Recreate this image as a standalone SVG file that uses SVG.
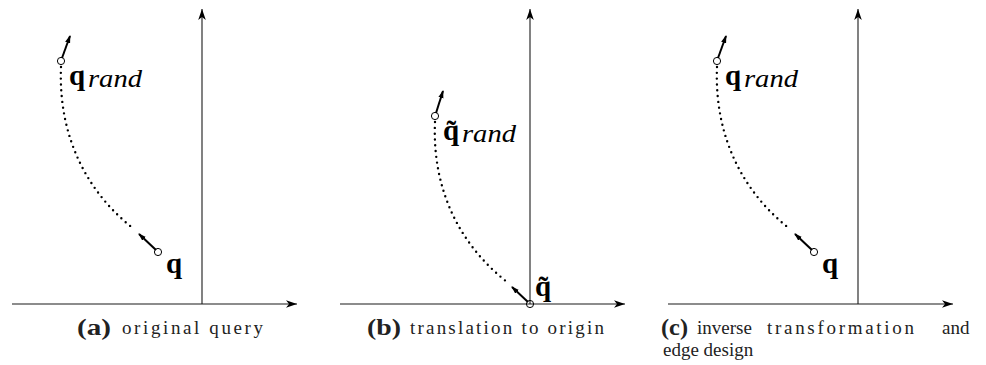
<svg xmlns="http://www.w3.org/2000/svg" width="986" height="365" viewBox="0 0 986 365">
<style>
.axis{stroke:#1a1a1a;stroke-width:1.1;fill:none}
.vec{stroke:#000;stroke-width:2;fill:none}
.dot{stroke:#000;stroke-width:2.4;fill:none;stroke-linecap:round;stroke-dasharray:0 5.8}
.pt{stroke:#000;stroke-width:1;fill:none}
.qb{font-family:"Liberation Serif","Times New Roman",serif;font-weight:bold;font-size:29px;fill:#000}
.sub{font-family:"Liberation Serif","Times New Roman",serif;font-style:italic;font-size:25px;fill:#000}
.cap{font-family:"Liberation Serif","Times New Roman",serif;font-size:19px;fill:#222}
.capb{font-family:"Liberation Serif","Times New Roman",serif;font-weight:bold;font-size:23px;fill:#222}
</style>
<defs>
<marker id="ax" markerUnits="userSpaceOnUse" markerWidth="14" markerHeight="10" refX="11" refY="5" orient="auto">
<path d="M0,1.2 L11,5 L0,8.8 L3,5 z" fill="#000"/>
</marker>
<marker id="vh" markerUnits="userSpaceOnUse" markerWidth="9" markerHeight="6" refX="7" refY="3" orient="auto">
<path d="M0,0.4 L8,3 L0,5.6 z" fill="#000"/>
</marker>
</defs>

<g id="connectors">
<line class="axis" x1="12" y1="304" x2="297" y2="304" marker-end="url(#ax)"/>
<line class="axis" x1="202" y1="304" x2="202" y2="9" marker-end="url(#ax)"/>
<path class="dot" d="M61,67 C58,140 90,195 134,229"/>
<line class="vec" x1="62" y1="58" x2="70" y2="36" marker-end="url(#vh)"/>
<line class="vec" x1="156" y1="250" x2="139" y2="234" marker-end="url(#vh)"/>

<line class="axis" x1="340" y1="304" x2="625" y2="304" marker-end="url(#ax)"/>
<line class="axis" x1="530" y1="304" x2="530" y2="9" marker-end="url(#ax)"/>
<path class="dot" d="M435,122 C432,190 460,245 507,282"/>
<line class="vec" x1="436" y1="113" x2="443" y2="91" marker-end="url(#vh)"/>
<line class="vec" x1="528" y1="302" x2="512" y2="287" marker-end="url(#vh)"/>

<line class="axis" x1="668" y1="304" x2="953" y2="304" marker-end="url(#ax)"/>
<line class="axis" x1="858" y1="304" x2="858" y2="9" marker-end="url(#ax)"/>
<path class="dot" d="M717,67 C714,140 746,195 790,229"/>
<line class="vec" x1="718" y1="58" x2="726" y2="36" marker-end="url(#vh)"/>
<line class="vec" x1="812" y1="250" x2="795" y2="234" marker-end="url(#vh)"/>
</g>

<g id="a-qrand">
<circle class="pt" cx="61" cy="61" r="3.6"/>
<text class="qb" x="69" y="85">q</text>
<text class="sub" x="88" y="87" textLength="54" lengthAdjust="spacingAndGlyphs">rand</text>
</g>
<g id="a-q">
<circle class="pt" cx="158" cy="252" r="3.6"/>
<text class="qb" x="166" y="273">q</text>
</g>
<g id="a-caption">
<text class="capb" x="77" y="335" textLength="34" lengthAdjust="spacingAndGlyphs">(a)</text>
<text class="cap" x="122" y="334" textLength="141" lengthAdjust="spacing">original query</text>
</g>

<g id="b-qrand">
<circle class="pt" cx="435" cy="116" r="3.6"/>
<text class="qb" x="443" y="140">q̃</text>
<text class="sub" x="462" y="142" textLength="54" lengthAdjust="spacingAndGlyphs">rand</text>
</g>
<g id="b-q">
<circle class="pt" cx="530" cy="304" r="3.6"/>
<text class="qb" x="535" y="296">q̃</text>
</g>
<g id="b-caption">
<text class="capb" x="367" y="335" textLength="34" lengthAdjust="spacingAndGlyphs">(b)</text>
<text class="cap" x="410" y="334" textLength="194" lengthAdjust="spacing">translation to origin</text>
</g>

<g id="c-qrand">
<circle class="pt" cx="717" cy="61" r="3.6"/>
<text class="qb" x="725" y="85">q</text>
<text class="sub" x="744" y="87" textLength="54" lengthAdjust="spacingAndGlyphs">rand</text>
</g>
<g id="c-q">
<circle class="pt" cx="814" cy="252" r="3.6"/>
<text class="qb" x="822" y="273">q</text>
</g>
<g id="c-caption">
<text class="capb" x="661" y="335" textLength="27" lengthAdjust="spacingAndGlyphs">(c)</text>
<text class="cap" x="697" y="334">inverse</text>
<text class="cap" x="767" y="334" textLength="147" lengthAdjust="spacing">transformation</text>
<text class="cap" x="942" y="334">and</text>
<text class="cap" x="663" y="356">edge design</text>
</g>
</svg>
